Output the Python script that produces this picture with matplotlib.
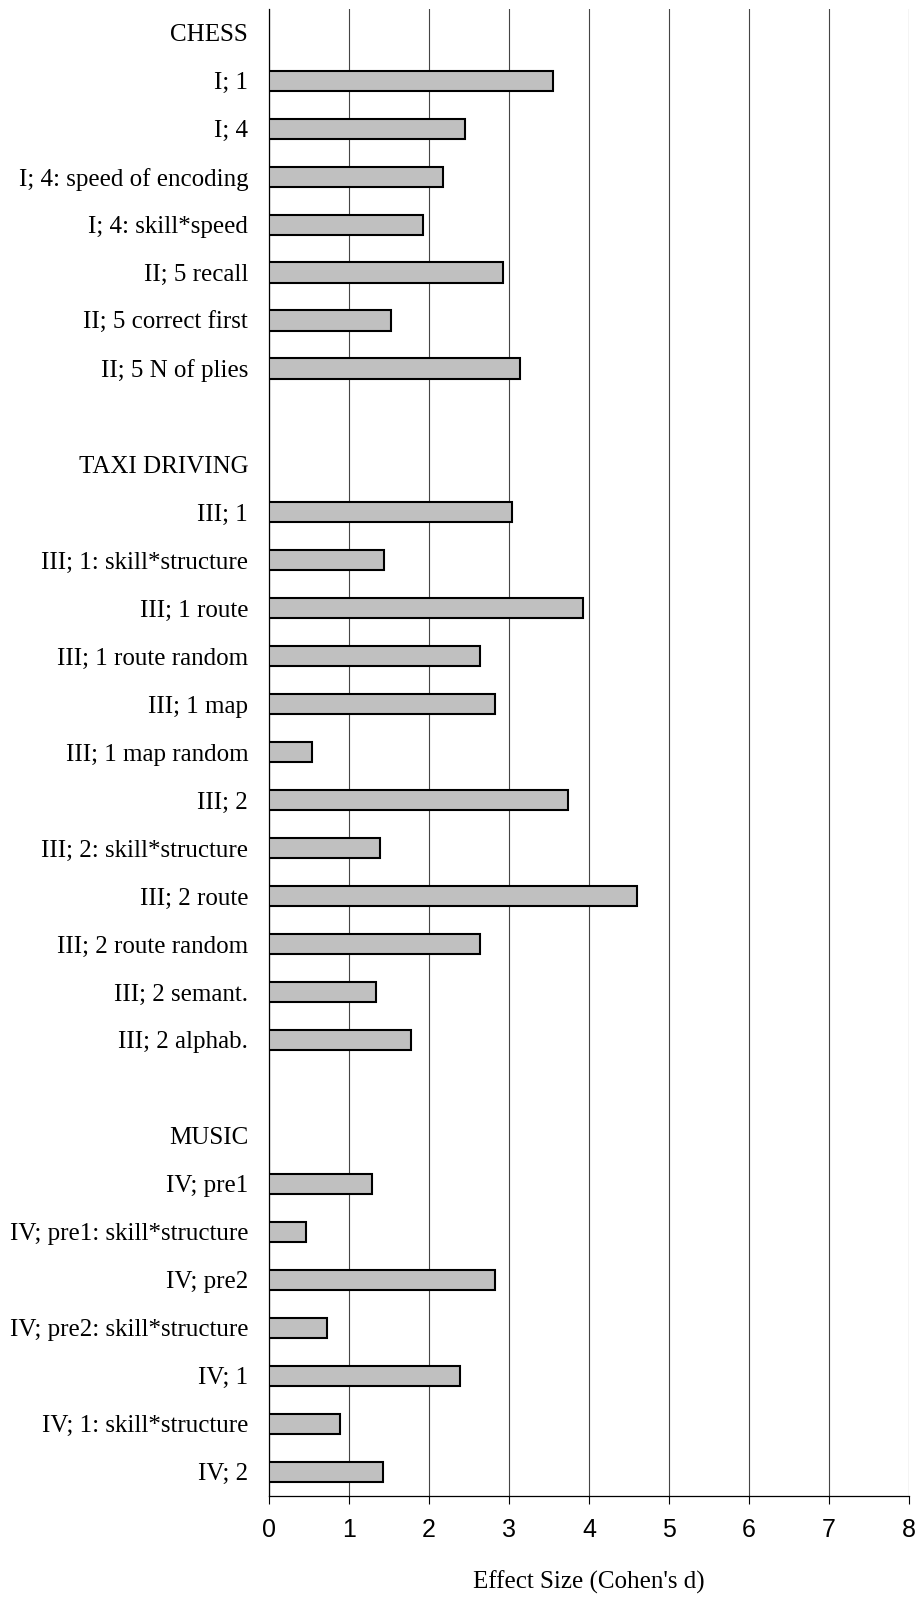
import numpy as np
import matplotlib.pyplot as plt

# effect sizes (Cohen's d) per study / measure
chess_labels = ['I; 1', 'I; 4', 'I; 4: speed of encoding', 'I; 4: skill*speed',
                'II; 5 recall', 'II; 5 correct first', 'II; 5 N of plies']
chess_d = [3.55, 2.45, 2.17, 1.92, 2.93, 1.52, 3.14]

taxi_labels = ['III; 1', 'III; 1: skill*structure', 'III; 1 route', 'III; 1 route random',
               'III; 1 map', 'III; 1 map random', 'III; 2', 'III; 2: skill*structure',
               'III; 2 route', 'III; 2 route random', 'III; 2 semant.', 'III; 2 alphab.']
taxi_d = [3.04, 1.44, 3.92, 2.64, 2.82, 0.54, 3.74, 1.39, 4.60, 2.64, 1.34, 1.77]

music_labels = ['IV; pre1', 'IV; pre1: skill*structure', 'IV; pre2', 'IV; pre2: skill*structure',
                'IV; 1', 'IV; 1: skill*structure', 'IV; 2']
music_d = [1.29, 0.46, 2.82, 0.72, 2.39, 0.89, 1.42]

groups = [('CHESS', chess_labels, chess_d),
          ('TAXI DRIVING', taxi_labels, taxi_d),
          ('MUSIC', music_labels, music_d)]

# rows top to bottom: header, bars, blank line between groups
labels = []
values = []
for k, (title, lab, d) in enumerate(groups):
    labels.append(title)
    values.append(np.nan)
    labels += lab
    values += d
    if k < len(groups) - 1:
        labels.append('')
        values.append(np.nan)

y = np.arange(len(labels))

fig = plt.figure(figsize=(9.23, 15.97), dpi=100)
ax = fig.add_axes([0.2914, 0.0635, 0.6934, 0.931])

ax.barh(y, values, height=0.42, color='#c0c0c0', edgecolor='black', linewidth=1.5, zorder=3)

ax.set_xlim(0, 8)
ax.set_ylim(len(labels) - 0.5, -0.5)
ax.set_xticks(range(0, 9))
ax.set_xticklabels([str(i) for i in range(0, 9)], family='Liberation Sans', fontsize=18)
ax.set_yticks(y)
ax.set_yticklabels(labels, family='Liberation Serif', fontsize=18)
ax.tick_params(axis='y', length=0, pad=15)
ax.tick_params(axis='x', length=6, width=0.8, direction='out', pad=10)

ax.grid(axis='x', color='#444444', linewidth=0.8, zorder=0)
for s in ['top', 'right']:
    ax.spines[s].set_visible(False)
ax.spines['left'].set_linewidth(0.9)
ax.spines['bottom'].set_linewidth(0.9)

ax.set_xlabel("Effect Size (Cohen's d)", family='Liberation Serif', fontsize=18, labelpad=21)

fig.savefig('out.png', dpi=100, facecolor='white')
